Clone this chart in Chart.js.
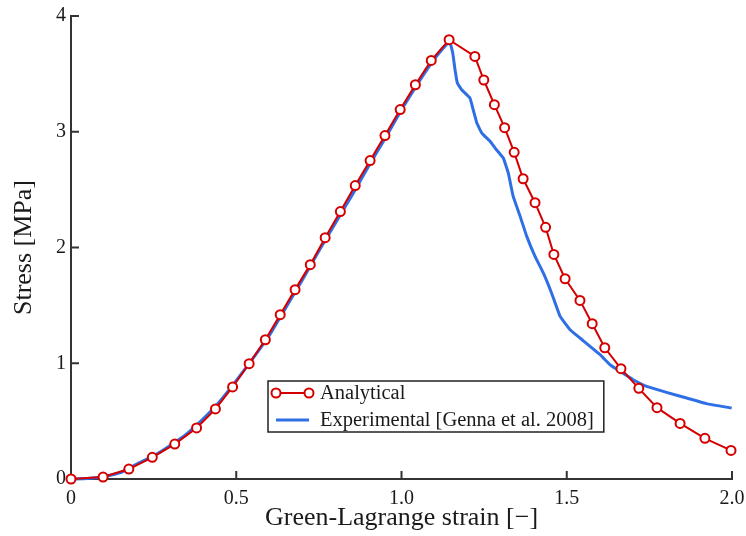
<!DOCTYPE html>
<html>
<head>
<meta charset="utf-8">
<script src="https://cdn.jsdelivr.net/npm/chart.js@4.4.1/dist/chart.umd.min.js"></script>
<style>
  html, body { margin: 0; padding: 0; background: #fff; }
  #wrap { width: 746px; height: 536px; position: relative; }
</style>
</head>
<body>
<div id="wrap"><canvas id="stressChart"></canvas></div>
<script>
// Analytical model (red, with markers)
const strainAnalytical = [0, 0.097, 0.175, 0.246, 0.314, 0.380, 0.437, 0.489, 0.539, 0.588, 0.633, 0.678, 0.724, 0.769, 0.815, 0.860, 0.905, 0.950, 0.996, 1.042, 1.090, 1.144, 1.222, 1.249, 1.281, 1.312, 1.341, 1.368, 1.404, 1.436, 1.461, 1.495, 1.540, 1.577, 1.615, 1.664, 1.718, 1.773, 1.843, 1.918, 1.997];
const stressAnalytical = [0, 0.017, 0.086, 0.187, 0.302, 0.441, 0.605, 0.795, 0.996, 1.203, 1.420, 1.636, 1.852, 2.085, 2.310, 2.535, 2.751, 2.967, 3.192, 3.406, 3.616, 3.795, 3.651, 3.447, 3.234, 3.035, 2.822, 2.594, 2.387, 2.174, 1.940, 1.730, 1.543, 1.342, 1.134, 0.953, 0.783, 0.616, 0.480, 0.351, 0.247];

// Experimental curve (blue)
const strainExperimental = [0, 0.05, 0.1, 0.15, 0.2, 0.25, 0.3, 0.35, 0.4, 0.45, 0.5, 0.55, 0.6, 0.65, 0.7, 0.75, 0.8, 0.85, 0.9, 0.95, 1.0, 1.05, 1.1, 1.145, 1.155, 1.162, 1.169, 1.182, 1.207, 1.217, 1.228, 1.243, 1.268, 1.283, 1.308, 1.323, 1.338, 1.359, 1.379, 1.404, 1.429, 1.454, 1.480, 1.510, 1.540, 1.601, 1.631, 1.661, 1.701, 1.742, 1.802, 1.863, 1.923, 1.999];
const stressExperimental = [0, 0.005, 0.02, 0.055, 0.13, 0.20, 0.29, 0.39, 0.52, 0.67, 0.85, 1.04, 1.24, 1.48, 1.72, 1.97, 2.21, 2.45, 2.70, 2.94, 3.19, 3.42, 3.63, 3.78, 3.68, 3.536, 3.421, 3.363, 3.292, 3.19, 3.076, 2.989, 2.917, 2.86, 2.773, 2.644, 2.441, 2.269, 2.096, 1.923, 1.78, 1.607, 1.405, 1.29, 1.218, 1.074, 0.987, 0.93, 0.858, 0.80, 0.748, 0.70, 0.651, 0.613];

const xTicks = [0, 0.5, 1.0, 1.5, 2.0];
const yTicks = [0, 1, 2, 3, 4];

const seriesLabels = ['Analytical', 'Experimental [Genna et al. 2008]'];
const xTitle = 'Green-Lagrange strain [\u2212]';
const yTitle = 'Stress [MPa]';

const RED = '#d40000';
const BLUE = '#2f6fe6';
const AXIS = '#333333';
const TEXT = '#1a1a1a';
const FONT = '"Liberation Serif", "Times New Roman", serif';

const toPoints = (xs, ys) => xs.map((x, i) => ({ x, y: ys[i] }));

// inward tick marks on the left and bottom axes
const inwardTicks = {
  id: 'inwardTicks',
  beforeDatasetsDraw(chart) {
    const { ctx, chartArea, scales } = chart;
    ctx.save();
    ctx.strokeStyle = AXIS;
    ctx.lineWidth = 2;
    ctx.beginPath();
    xTicks.forEach(v => {
      const px = scales.x.getPixelForValue(v);
      ctx.moveTo(px, chartArea.bottom);
      ctx.lineTo(px, chartArea.bottom - 8);
    });
    yTicks.forEach(v => {
      const py = scales.y.getPixelForValue(v);
      ctx.moveTo(chartArea.left, py);
      ctx.lineTo(chartArea.left + 8, py);
    });
    ctx.stroke();
    ctx.restore();
  }
};

// boxed legend inside the plot area
const boxLegend = {
  id: 'boxLegend',
  afterDraw(chart) {
    const { ctx, chartArea } = chart;
    const left = chartArea.left + 197;
    const top = chartArea.top + 365;
    const rowH = 27;
    ctx.save();
    ctx.font = '20.5px ' + FONT;
    const textW = Math.max(...seriesLabels.map(t => ctx.measureText(t).width));
    const width = 52 + textW + 10;
    const height = 51;

    ctx.strokeStyle = '#222';
    ctx.lineWidth = 1.5;
    ctx.strokeRect(left, top, width, height);

    chart.data.datasets.forEach((ds, i) => {
      const cy = top + 12 + i * rowH;
      ctx.strokeStyle = ds.borderColor;
      ctx.lineWidth = ds.borderWidth;
      ctx.beginPath();
      ctx.moveTo(left + 8, cy);
      ctx.lineTo(left + 41, cy);
      ctx.stroke();
      if (ds.pointRadius > 0) {
        [left + 8, left + 41].forEach(cx => {
          ctx.beginPath();
          ctx.arc(cx, cy, ds.pointRadius, 0, Math.PI * 2);
          ctx.fillStyle = '#fff';
          ctx.fill();
          ctx.lineWidth = ds.pointBorderWidth;
          ctx.stroke();
        });
      }
      ctx.fillStyle = TEXT;
      ctx.textBaseline = 'middle';
      ctx.fillText(ds.label, left + 52, cy + 1);
    });
    ctx.restore();
  }
};

new Chart(document.getElementById('stressChart'), {
  type: 'scatter',
  data: {
    datasets: [
      {
        label: seriesLabels[0],
        data: toPoints(strainAnalytical, stressAnalytical),
        showLine: true,
        borderColor: RED,
        borderWidth: 2,
        pointRadius: 4.5,
        pointBorderWidth: 2,
        pointBackgroundColor: '#fff',
        pointBorderColor: RED,
        order: 0,
        clip: false
      },
      {
        label: seriesLabels[1],
        data: toPoints(strainExperimental, stressExperimental),
        showLine: true,
        borderColor: BLUE,
        borderWidth: 3,
        pointRadius: 0,
        tension: 0.1,
        order: 1,
        clip: false
      }
    ]
  },
  options: {
    responsive: true,
    maintainAspectRatio: false,
    animation: false,
    layout: { padding: { top: 16, right: 14, left: 0, bottom: 0 } },
    plugins: {
      legend: { display: false },
      tooltip: { enabled: false }
    },
    scales: {
      x: {
        type: 'linear',
        min: 0,
        max: 2,
        afterFit: s => { s.height = 57; s.paddingLeft = 0; s.paddingRight = 0; },
        afterBuildTicks: s => { s.ticks = xTicks.map(v => ({ value: v })); },
        grid: { display: false, drawTicks: false },
        border: { display: true, color: AXIS, width: 2 },
        ticks: {
          padding: 8,
          maxRotation: 0,
          color: TEXT,
          font: { family: FONT, size: 20 },
          callback: v => v === 0 ? '0' : v.toFixed(1)
        },
        title: {
          display: true,
          text: xTitle,
          color: TEXT,
          font: { family: FONT, size: 26 },
          padding: { top: 0, bottom: 2 }
        }
      },
      y: {
        type: 'linear',
        min: 0,
        max: 4,
        afterFit: s => { s.width = 71; s.paddingTop = 0; s.paddingBottom = 0; },
        afterBuildTicks: s => { s.ticks = yTicks.map(v => ({ value: v })); },
        grid: { display: false, drawTicks: false },
        border: { display: true, color: AXIS, width: 2 },
        ticks: {
          padding: 5,
          color: TEXT,
          font: { family: FONT, size: 20 },
          callback: v => String(v)
        },
        title: {
          display: true,
          text: yTitle,
          color: TEXT,
          font: { family: FONT, size: 26 },
          padding: { top: 9, bottom: 0 }
        }
      }
    }
  },
  plugins: [inwardTicks, boxLegend]
});
</script>
</body>
</html>
